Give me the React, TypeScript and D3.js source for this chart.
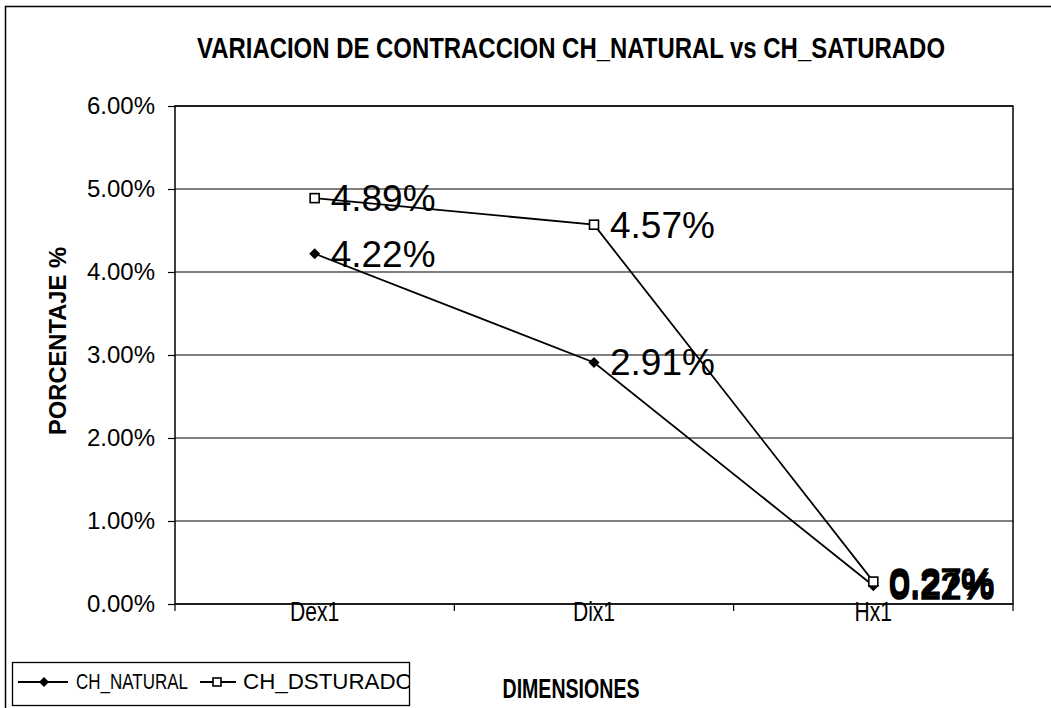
import { useEffect, useRef } from 'react';
import * as d3 from 'd3';

// ── 데이터 ──────────────────────────────────────────
const categories = ['Dex1', 'Dix1', 'Hx1'];
const natural = [4.22, 2.91, 0.22];
const saturado = [4.89, 4.57, 0.27];
const yTicks = [0, 1, 2, 3, 4, 5, 6];
const seriesNames = ['CH_NATURAL', 'CH_DSTURADO'];

const W = 1051;
const H = 708;
const SANS = "'Liberation Sans', Arial, sans-serif";

export default function App() {
  const svgRef = useRef<SVGSVGElement | null>(null);

  useEffect(() => {
    const svg = d3.select(svgRef.current);
    svg.selectAll('*').remove();

    const m = { left: 175, right: 1013, top: 106, bottom: 604 };

    const x = d3.scalePoint<string>().domain(categories).range([m.left, m.right]).padding(0.5);
    const band = (m.right - m.left) / categories.length;
    const y = d3.scaleLinear().domain([0, 6]).range([m.bottom, m.top]);

    svg.append('rect').attr('width', W).attr('height', H).attr('fill', '#fff');

    // 외곽 테두리
    svg.append('path')
      .attr('d', `M5.5,${H}V6.5H${W}`)
      .attr('fill', 'none').attr('stroke', '#000').attr('stroke-width', 1.5);

    // 제목 (좁은 글꼴 대신 textLength로 압축)
    svg.append('text')
      .attr('x', 571).attr('y', 58).attr('text-anchor', 'middle')
      .attr('font-family', SANS).attr('font-weight', 700).attr('font-size', 29)
      .attr('textLength', 748).attr('lengthAdjust', 'spacingAndGlyphs')
      .text('VARIACION DE CONTRACCION CH_NATURAL vs CH_SATURADO');

    // 그리드 + 플롯 박스
    svg.append('g').selectAll('line').data(yTicks).join('line')
      .attr('x1', m.left).attr('x2', m.right)
      .attr('y1', d => y(d)).attr('y2', d => y(d))
      .attr('stroke', '#000').attr('stroke-width', 1.2);
    svg.append('rect')
      .attr('x', m.left).attr('y', m.top)
      .attr('width', m.right - m.left).attr('height', m.bottom - m.top)
      .attr('fill', 'none').attr('stroke', '#000').attr('stroke-width', 1.5);

    // Y 축
    const yAxis = d3.axisLeft(y).tickValues(yTicks).tickSize(7).tickPadding(13)
      .tickFormat(d => `${(+d).toFixed(2)}%`);
    const gy = svg.append('g').attr('transform', `translate(${m.left},0)`).call(yAxis);
    gy.select('.domain').remove();
    gy.selectAll('line').attr('stroke', '#000').attr('stroke-width', 1.2);
    gy.selectAll('text').attr('font-family', SANS).attr('font-size', 24).attr('fill', '#000');

    // X 축 (카테고리 경계 눈금)
    const edges = d3.range(categories.length + 1).map(i => m.left + i * band);
    svg.append('g').selectAll('line').data(edges).join('line')
      .attr('x1', d => d).attr('x2', d => d)
      .attr('y1', m.bottom).attr('y2', m.bottom + 7)
      .attr('stroke', '#000').attr('stroke-width', 1.2);
    svg.append('g').selectAll('text').data(categories).join('text')
      .attr('transform', d => `translate(${x(d)},621) scale(0.78,1)`)
      .attr('text-anchor', 'middle')
      .attr('font-family', SANS).attr('font-size', 27)
      .text(d => d);

    // 축 제목
    svg.append('text')
      .attr('transform', 'translate(66,341) rotate(-90)').attr('text-anchor', 'middle')
      .attr('font-family', SANS).attr('font-weight', 700).attr('font-size', 24)
      .attr('textLength', 188).attr('lengthAdjust', 'spacingAndGlyphs')
      .text('PORCENTAJE %');
    svg.append('text')
      .attr('x', 571).attr('y', 698).attr('text-anchor', 'middle')
      .attr('font-family', SANS).attr('font-weight', 700).attr('font-size', 27)
      .attr('textLength', 137).attr('lengthAdjust', 'spacingAndGlyphs')
      .text('DIMENSIONES');

    // 시리즈
    const line = d3.line<number>().x((_, i) => x(categories[i])!).y(d => y(d));
    const series = [
      { values: natural, marker: 'diamond' },
      { values: saturado, marker: 'square' },
    ];

    const diamond = (s: number) => `M0,${-s}L${s},0L0,${s}L${-s},0Z`;

    series.forEach(s => {
      svg.append('path').datum(s.values).attr('d', line)
        .attr('fill', 'none').attr('stroke', '#000').attr('stroke-width', 1.8);
      const gm = svg.append('g').selectAll('g').data(s.values).join('g')
        .attr('transform', (d, i) => `translate(${x(categories[i])},${y(d)})`);
      if (s.marker === 'diamond') {
        gm.append('path').attr('d', diamond(5.5)).attr('fill', '#000');
      } else {
        gm.append('rect').attr('x', -4.5).attr('y', -4.5).attr('width', 9).attr('height', 9)
          .attr('fill', '#fff').attr('stroke', '#000').attr('stroke-width', 1.6);
      }
    });

    // 데이터 라벨
    series.forEach(s => {
      svg.append('g').selectAll('text').data(s.values).join('text')
        .attr('x', (d, i) => x(categories[i])! + 16)
        .attr('y', d => y(d) + 13)
        .attr('font-family', SANS).attr('font-size', 37)
        .attr('stroke', (d, i) => (i === 2 ? '#000' : 'none'))
        .attr('stroke-width', 1.6)
        .text(d => `${d.toFixed(2)}%`);
    });

    // 범례
    const lg = svg.append('g');
    lg.append('rect').attr('x', 12.5).attr('y', 662.5).attr('width', 397).attr('height', 43)
      .attr('fill', '#fff').attr('stroke', '#000').attr('stroke-width', 1.3);
    const clipId = 'legend-clip';
    svg.append('defs').append('clipPath').attr('id', clipId)
      .append('rect').attr('x', 13).attr('y', 663).attr('width', 396).attr('height', 42);
    const items = lg.append('g').attr('clip-path', `url(#${clipId})`);
    const lx = [18, 200];
    const lw = [50, 36];
    const tx = [76, 243];
    const tl = [112, 170];
    seriesNames.forEach((name, i) => {
      items.append('line').attr('x1', lx[i]).attr('x2', lx[i] + lw[i]).attr('y1', 682).attr('y2', 682)
        .attr('stroke', '#000').attr('stroke-width', 1.8);
      if (i === 0) {
        items.append('path').attr('d', diamond(5)).attr('transform', `translate(${lx[i] + 26},682)`)
          .attr('fill', '#000');
      } else {
        items.append('rect').attr('x', lx[i] + 13).attr('y', 678).attr('width', 8).attr('height', 8)
          .attr('fill', '#fff').attr('stroke', '#000').attr('stroke-width', 1.6);
      }
      items.append('text').attr('x', tx[i]).attr('y', 689)
        .attr('font-family', SANS).attr('font-size', 22)
        .attr('textLength', tl[i]).attr('lengthAdjust', 'spacingAndGlyphs')
        .text(name);
    });
  }, []);

  return (
    <svg
      ref={svgRef}
      width={W}
      height={H}
      style={{ position: 'absolute', left: 0, top: 0, display: 'block' }}
    />
  );
}
